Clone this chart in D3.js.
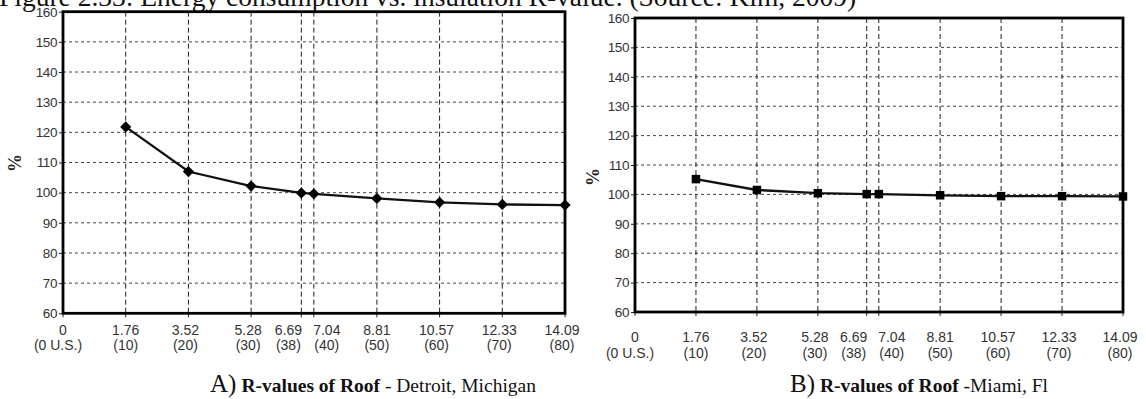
<!doctype html>
<html lang="en">
    <head>
        <meta charset="utf-8">
        <title>R-values of Roof</title>
        <style>
            body { margin: 0; background: #fff; }
            svg { display: block; }
        </style>
    </head>

    <body>
        <script src="https://cdnjs.cloudflare.com/ajax/libs/d3/7.8.5/d3.min.js"></script>
        <script>

            // data
            var rValues = [1.76, 3.52, 5.28, 6.69, 7.04, 8.81, 10.57, 12.33, 14.09];
            var tickSI = ["0", "1.76", "3.52", "5.28", "6.69", "7.04", "8.81", "10.57", "12.33", "14.09"];
            var tickUS = ["(0 U.S.)", "(10)", "(20)", "(30)", "(38)", "(40)", "(50)", "(60)", "(70)", "(80)"];
            var tickX = [0, 1.76, 3.52, 5.28, 6.69, 7.04, 8.81, 10.57, 12.33, 14.09];
            var yTicks = [60, 70, 80, 90, 100, 110, 120, 130, 140, 150, 160];
            var detroit = [121.8, 107.0, 102.2, 99.9, 99.6, 98.1, 96.8, 96.1, 95.9];
            var miami = [105.2, 101.5, 100.4, 100.1, 100.1, 99.7, 99.4, 99.4, 99.3];

            var w = 1146;
            var h = 399;

            var svg = d3.select("body")
                        .append("svg")
                        .attr("width", w)
                        .attr("height", h);

            // figure title (clipped at top in the source)
            svg.append("text")
               .attr("x", -1)
               .attr("y", 6)
               .attr("font-family", "Liberation Serif")
               .attr("font-size", 27.5)
               .attr("fill", "#111")
               .text("Figure 2.33: Energy consumption vs. insulation R-value. (Source: Kim, 2009)");

            // the 6.69 / 7.04 labels are pushed apart so they don't collide
            function labelShift(d) {
                if (d === 6.69) return -13;
                if (d === 7.04) return 13;
                if (d === 0 || d === 1.76 || d === 8.81) return 0;
                return -3;
            }

            function drawPanel(p) {
                var x = d3.scaleLinear().domain([0, 14.09]).range([p.left, p.right]);
                var y = d3.scaleLinear().domain([60, 160]).range([p.bottom, p.top]);
                var g = svg.append("g");

                // horizontal grid
                g.selectAll("line.hg")
                 .data(yTicks.slice(1, -1))
                 .enter()
                 .append("line")
                 .attr("x1", p.left).attr("x2", p.right)
                 .attr("y1", function(d) { return y(d); })
                 .attr("y2", function(d) { return y(d); })
                 .attr("stroke", "#444")
                 .attr("stroke-width", 1)
                 .attr("stroke-dasharray", "3,3");

                // vertical grid
                g.selectAll("line.vg")
                 .data(tickX.slice(1, -1))
                 .enter()
                 .append("line")
                 .attr("y1", p.top).attr("y2", p.bottom)
                 .attr("x1", function(d) { return x(d); })
                 .attr("x2", function(d) { return x(d); })
                 .attr("stroke", "#222")
                 .attr("stroke-width", 1)
                 .attr("stroke-dasharray", "5,3");

                // y axis ticks + labels
                var yAxis = d3.axisLeft(y).tickValues(yTicks).tickSize(4).tickPadding(2);
                var ya = g.append("g")
                          .attr("transform", "translate(" + p.left + ",0)")
                          .call(yAxis);
                ya.select(".domain").remove();
                ya.selectAll("line").attr("stroke", "#222");
                ya.selectAll("text")
                  .attr("font-family", "Liberation Sans, Arial")
                  .attr("font-size", 13.5)
                  .attr("letter-spacing", -0.4)
                  .attr("fill", "#333");

                // x ticks
                g.selectAll("line.xt")
                 .data(tickX)
                 .enter()
                 .append("line")
                 .attr("x1", function(d) { return x(d); })
                 .attr("x2", function(d) { return x(d); })
                 .attr("y1", p.bottom).attr("y2", p.bottom + 4)
                 .attr("stroke", "#222");

                // x labels, two lines
                g.selectAll("text.xs")
                 .data(tickX)
                 .enter()
                 .append("text")
                 .attr("x", function(d) { return x(d) + labelShift(d); })
                 .attr("y", p.bottom + p.lab1)
                 .attr("text-anchor", "middle")
                 .attr("font-family", "Liberation Sans, Arial")
                 .attr("font-size", 14)
                 .attr("fill", "#333")
                 .text(function(d, i) { return tickSI[i]; });

                g.selectAll("text.xu")
                 .data(tickX)
                 .enter()
                 .append("text")
                 .attr("x", function(d) { return x(d) + labelShift(d) - (d === 0 ? 5 : 0); })
                 .attr("y", p.bottom + p.lab2)
                 .attr("text-anchor", "middle")
                 .attr("font-family", "Liberation Sans, Arial")
                 .attr("font-size", 14)
                 .attr("fill", "#333")
                 .text(function(d, i) { return tickUS[i]; });

                // frame
                g.append("rect")
                 .attr("x", p.left).attr("y", p.top)
                 .attr("width", p.right - p.left)
                 .attr("height", p.bottom - p.top)
                 .attr("fill", "none")
                 .attr("stroke", "#000")
                 .attr("stroke-width", 2.8);

                // line
                var line = d3.line()
                             .x(function(d, i) { return x(rValues[i]); })
                             .y(function(d) { return y(d); });
                g.append("path")
                 .datum(p.values)
                 .attr("d", line)
                 .attr("fill", "none")
                 .attr("stroke", "#111")
                 .attr("stroke-width", 2.3);

                // markers
                g.selectAll("path.mk")
                 .data(p.values)
                 .enter()
                 .append("path")
                 .attr("d", d3.symbol().type(p.marker === "diamond" ? d3.symbolDiamond2 : d3.symbolSquare).size(p.marker === "diamond" ? 80 : 72))
                 .attr("transform", function(d, i) {
                     return "translate(" + x(rValues[i]) + "," + y(d) + ")";
                 })
                 .attr("fill", "#000");

                // % label
                g.append("text")
                 .attr("transform", "translate(" + p.pctX + "," + p.pctY + ") rotate(-90)")
                 .attr("text-anchor", "middle")
                 .attr("font-family", "Liberation Serif")
                 .attr("font-weight", "bold")
                 .attr("font-size", 18)
                 .attr("fill", "#222")
                 .text("%");

                // caption
                var cap = svg.append("text")
                             .attr("x", p.capX)
                             .attr("y", 392)
                             .attr("font-family", "Liberation Serif")
                             .attr("fill", "#111");
                cap.append("tspan").attr("font-size", 25).text(p.capLetter);
                cap.append("tspan").attr("font-size", 19.5).attr("font-weight", "bold").attr("dx", 5).text("R-values of Roof");
                cap.append("tspan").attr("font-size", 19.5).text(p.capRest);
            }

            drawPanel({
                left: 63, right: 565, top: 11.7, bottom: 313.3,
                lab1: 22, lab2: 37,
                values: detroit, marker: "diamond",
                pctX: 21, pctY: 163,
                capX: 210, capLetter: "A)", capRest: " - Detroit, Michigan"
            });

            drawPanel({
                left: 635, right: 1123, top: 18, bottom: 312,
                lab1: 29.5, lab2: 46,
                values: miami, marker: "square",
                pctX: 599, pctY: 177,
                capX: 790, capLetter: "B)", capRest: " -Miami, Fl"
            });

        </script>
    </body>
</html>
